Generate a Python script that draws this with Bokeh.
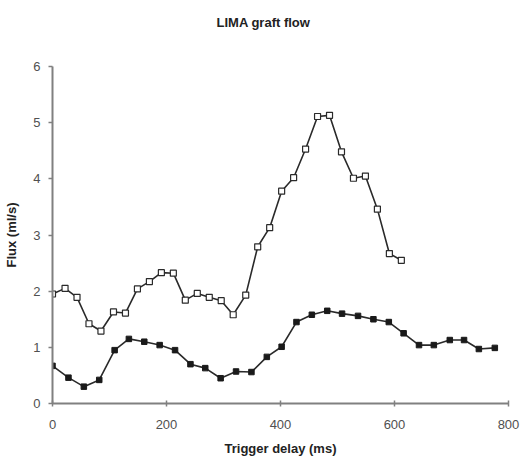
from bokeh.plotting import figure
from bokeh.models import Range1d, FixedTicker, Title
from bokeh.embed import file_html
from bokeh.resources import INLINE

TITLE = "LIMA graft flow"

# Upper series (open squares)
upper_x = [0, 22, 43, 64, 85, 107, 128, 149, 170, 191, 212, 233, 254, 275, 296,
           317, 339, 360, 381, 402, 423, 444, 465, 486, 507, 528, 549, 570, 591, 612]
upper_y = [1.95, 2.05, 1.89, 1.42, 1.29, 1.63, 1.61, 2.04, 2.17, 2.33, 2.32, 1.84, 1.96, 1.89, 1.83,
           1.58, 1.93, 2.79, 3.13, 3.78, 4.02, 4.53, 5.11, 5.13, 4.48, 4.01, 4.05, 3.46, 2.67, 2.55]

# Lower series (filled squares)
lower_x = [0, 28, 55, 82, 109, 134, 161, 188, 215, 242, 268, 295, 322, 349, 376,
           402, 428, 455, 482, 508, 536, 563, 590, 616, 643, 669, 697, 722, 748, 776]
lower_y = [0.67, 0.46, 0.30, 0.42, 0.95, 1.15, 1.10, 1.04, 0.95, 0.70, 0.63, 0.45, 0.57, 0.56, 0.83,
           1.01, 1.45, 1.58, 1.65, 1.60, 1.56, 1.50, 1.45, 1.25, 1.04, 1.04, 1.13, 1.13, 0.97, 0.99]

x_ticks = [0, 200, 400, 600, 800]
y_ticks = [0, 1, 2, 3, 4, 5, 6]

FONT = "Liberation Sans"

p = figure(width=521, height=459, output_backend="svg", toolbar_location=None,
           x_range=Range1d(0, 800), y_range=Range1d(0, 6),
           title=TITLE,
           min_border_left=52, min_border_right=13, min_border_top=66, min_border_bottom=56)

p.outline_line_color = None
p.xgrid.visible = False
p.ygrid.visible = False

p.title.text_font = FONT
p.title.text_font_size = "13px"
p.title.text_font_style = "bold"
p.title.text_color = "#222222"
p.title.align = "left"
p.title.offset = 164
p.title.standoff = 0

# blank spacer between the title and the plot area
p.add_layout(Title(text=" ", text_font=FONT, text_font_size="13px", standoff=20), "above")

for ax in (p.xaxis[0], p.yaxis[0]):
    ax.axis_line_color = "#808080"
    ax.axis_line_width = 2
    ax.major_tick_line_color = "#808080"
    ax.major_tick_line_width = 1.5
    ax.minor_tick_line_color = None
    ax.major_label_text_font = FONT
    ax.major_label_text_font_size = "13px"
    ax.major_label_text_color = "#505050"
    ax.axis_label_text_font = FONT
    ax.axis_label_text_font_size = "13px"
    ax.axis_label_text_font_style = "bold"
    ax.axis_label_text_color = "#222222"

p.xaxis.ticker = FixedTicker(ticks=x_ticks)
p.yaxis.ticker = FixedTicker(ticks=y_ticks)
p.xaxis.axis_label = "Trigger delay (ms)"
p.yaxis.axis_label = "Flux (ml/s)"
p.xaxis.major_tick_in = 3
p.xaxis.major_tick_out = 3
p.xaxis.major_label_standoff = 13
p.xaxis.axis_label_standoff = 9
p.yaxis.major_tick_in = 0
p.yaxis.major_tick_out = 4
p.yaxis.major_label_standoff = 8
p.yaxis.axis_label_standoff = 11

p.line(upper_x, upper_y, line_color="#2a2a2a", line_width=1.6)
p.scatter(upper_x, upper_y, marker="square", size=6, fill_color="white",
          line_color="#2a2a2a", line_width=1.2)

p.line(lower_x, lower_y, line_color="#2a2a2a", line_width=1.6)
p.scatter(lower_x, lower_y, marker="square", size=5.5, fill_color="#1a1a1a",
          line_color="#1a1a1a")

open("out.html", "w").write(file_html(p, INLINE))
